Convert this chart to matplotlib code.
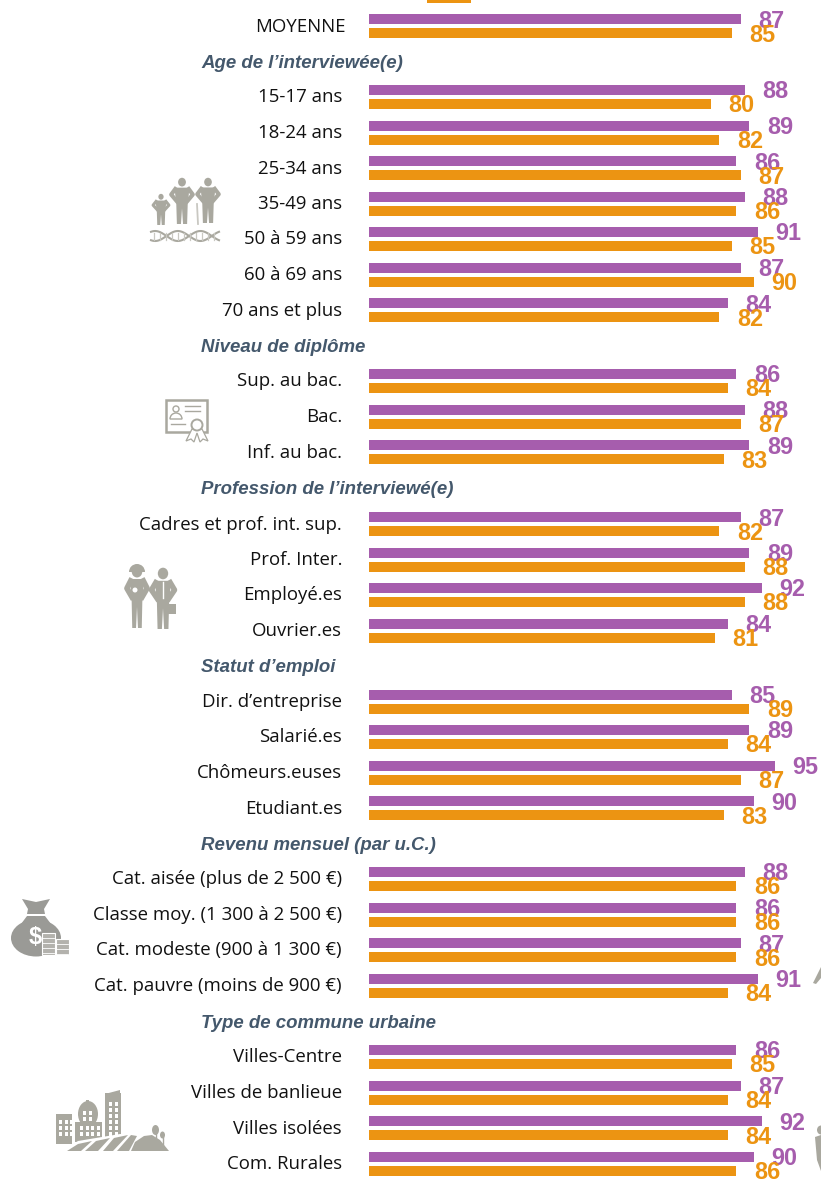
import matplotlib
matplotlib.use('Agg')
import matplotlib.pyplot as plt
import numpy as np
from matplotlib.patches import Polygon, Rectangle, Ellipse, Circle, Wedge

PURPLE = '#A65DAD'
ORANGE = '#EC9412'
HEAD = '#44586C'
ICON = '#A9A89F'

# chart values, one list per section
moyenne_labels = ['MOYENNE']
moyenne_a = [87]
moyenne_b = [85]

age_labels = ['15-17 ans', '18-24 ans', '25-34 ans', '35-49 ans', '50 à 59 ans', '60 à 69 ans', '70 ans et plus']
age_a = [88, 89, 86, 88, 91, 87, 84]
age_b = [80, 82, 87, 86, 85, 90, 82]

diplome_labels = ['Sup. au bac.', 'Bac.', 'Inf. au bac.']
diplome_a = [86, 88, 89]
diplome_b = [84, 87, 83]

profession_labels = ['Cadres et prof. int. sup.', 'Prof. Inter.', 'Employé.es', 'Ouvrier.es']
profession_a = [87, 89, 92, 84]
profession_b = [82, 88, 88, 81]

statut_labels = ['Dir. d’entreprise', 'Salarié.es', 'Chômeurs.euses', 'Etudiant.es']
statut_a = [85, 89, 95, 90]
statut_b = [89, 84, 87, 83]

revenu_labels = ['Cat. aisée (plus de 2 500 €)', 'Classe moy. (1 300 à 2 500 €)',
                 'Cat. modeste (900 à 1 300 €)', 'Cat. pauvre (moins de 900 €)']
revenu_a = [88, 86, 87, 91]
revenu_b = [86, 86, 86, 84]

commune_labels = ['Villes-Centre', 'Villes de banlieue', 'Villes isolées', 'Com. Rurales']
commune_a = [86, 87, 92, 90]
commune_b = [85, 84, 84, 86]

# title, labels, purple, orange, pixel y of first row
sections = [
    (None, moyenne_labels, moyenne_a, moyenne_b, 26),
    ('Age de l’interviewée(e)', age_labels, age_a, age_b, 97),
    ('Niveau de diplôme', diplome_labels, diplome_a, diplome_b, 381),
    ('Profession de l’interviewé(e)', profession_labels, profession_a, profession_b, 524),
    ('Statut d’emploi', statut_labels, statut_a, statut_b, 701.5),
    ('Revenu mensuel (par u.C.)', revenu_labels, revenu_a, revenu_b, 879),
    ('Type de commune urbaine', commune_labels, commune_a, commune_b, 1057),
]

W, H = 821, 1181
fig = plt.figure(figsize=(W / 100, H / 100), dpi=100)

# bars: x in percent, y in pixels from top
PX = 4.273
ax = fig.add_axes([369 / W, 0, (W - 369) / W, 1])
ax.set_xlim(0, (W - 369) / PX)
ax.set_ylim(H, 0)
ax.axis('off')

# overlay in raw pixels for the decoration
bg = fig.add_axes([0, 0, 1, 1], zorder=-1)
bg.set_xlim(0, W)
bg.set_ylim(H, 0)
bg.axis('off')

for title, labels, a, b, y0 in sections:
    if title:
        bg.text(201, y0 - 34, title, family='Liberation Sans', style='italic', weight='bold',
                fontsize=13.45, color=HEAD, va='center', ha='left')
    for i in range(len(labels)):
        y = y0 + i * 35.5
        ax.barh(y - 7, a[i], height=10, color=PURPLE, edgecolor='none')
        ax.barh(y + 7, b[i], height=10, color=ORANGE, edgecolor='none')
        ax.annotate(str(a[i]), (a[i], y - 7), xytext=(17.5 * 0.72, -8.5 * 0.72), textcoords='offset points',
                    family='Liberation Sans', weight='bold', fontsize=16.8, color=PURPLE, va='baseline')
        ax.annotate(str(b[i]), (b[i], y + 7), xytext=(17.5 * 0.72, -8.5 * 0.72), textcoords='offset points',
                    family='Liberation Sans', weight='bold', fontsize=16.8, color=ORANGE, va='baseline')
        xr = 346 if title is None else 342
        bg.text(xr, y + 0.5, labels[i], family='Open Sans', fontsize=13.45, color='#111111', ha='right', va='center')

# legend swatch, cut off by the top edge
bg.add_patch(Rectangle((427, -2), 44, 5, color=ORANGE, lw=0))


def person(x, top, h, w, col=ICON):
    # head + torso + legs, arms drawn as thick strokes
    bg.add_patch(Ellipse((x, top + h * 0.09), h * 0.17, h * 0.19, color=col, lw=0))
    bg.add_patch(Polygon([(x - w * .5, top + h * .21), (x + w * .5, top + h * .21), (x + w * .38, top + h * .58),
                          (x + w * .34, top + h), (x + w * .07, top + h), (x, top + h * .66),
                          (x - w * .07, top + h), (x - w * .34, top + h), (x - w * .38, top + h * .58)],
                         color=col, lw=0))
    lw = max(2.2, h * 0.065)
    bg.plot([x - w * .45, x - w * .72, x - w * .36], [top + h * .24, top + h * .36, top + h * .5], color=col, lw=lw)
    bg.plot([x + w * .45, x + w * .72, x + w * .36], [top + h * .24, top + h * .36, top + h * .5], color=col, lw=lw)


# age icon
person(161, 194, 31, 11)
person(182, 178, 46, 15)
person(208, 178, 45, 15)
bg.plot([197, 198], [204, 224], color='#C9C8C2', lw=1.3)
xs = np.arange(151, 219.5, 0.5)
bg.plot(xs, 236 + 5 * np.sin((xs - 151) / 68 * 2 * np.pi * 1.5 + 1.0), color=ICON, lw=1.5)
bg.plot(xs, 236 - 5 * np.sin((xs - 151) / 68 * 2 * np.pi * 1.5 + 1.0), color=ICON, lw=1.5)
for k in range(154, 218, 6):
    bg.plot([k, k], [233, 240], color='#C9C8C2', lw=0.9)

# diploma icon
bg.add_patch(Rectangle((166, 400), 41, 32, fill=False, ec=ICON, lw=1.8))
bg.add_patch(Circle((176, 409), 3, fill=False, ec=ICON, lw=1))
bg.add_patch(Wedge((176, 419), 6, 180, 360, fill=False, ec=ICON, lw=1))
bg.plot([185, 200], [406, 406], color=ICON, lw=1)
bg.plot([185, 200], [411, 411], color=ICON, lw=1)
bg.plot([171, 185], [424, 424], color=ICON, lw=1)
bg.add_patch(Polygon([(192, 429), (186, 441), (191, 439), (194, 442), (197, 433), (200, 442), (203, 439), (208, 441), (202, 429)],
                     fc='white', ec=ICON, lw=0.9, zorder=3))
bg.add_patch(Circle((197, 425), 5.5, fc='white', ec=ICON, lw=1.4, zorder=4))

# workers icon
person(137, 566, 62, 14)
bg.add_patch(Wedge((137, 572), 8, 180, 360, color=ICON, lw=0))
bg.add_patch(Circle((135, 590), 2.5, color='white', lw=0, zorder=3))
person(163, 568, 61, 16)
bg.plot([163, 163], [582, 598], color='white', lw=1, zorder=3)
bg.add_patch(Rectangle((167, 604), 9, 10, color=ICON, lw=0))

# money bag icon
bg.add_patch(Polygon([(22, 899), (36, 902), (50, 899), (44, 909), (45, 914), (27, 914), (28, 909)], color='#9A9A96', lw=0))
bg.add_patch(Ellipse((36, 938), 50, 37, color='#9A9A96', lw=0))
bg.add_patch(Polygon([(27, 916), (45, 916), (54, 928), (18, 928)], color='#9A9A96', lw=0))
bg.text(35, 938, '$', family='Liberation Sans', weight='bold', fontsize=17, color='white', ha='center', va='center')
for cx, top, h in [(48, 933, 22), (62, 939, 16)]:
    bg.add_patch(Rectangle((cx - 6.5, top), 13, h, fc='#B3B2AD', ec='white', lw=0.8, zorder=3))
    for yy in range(top + 5, top + h, 5):
        bg.plot([cx - 6, cx + 6], [yy, yy], color='white', lw=0.6, zorder=4)

# town icon
for bx, by, bw, bh in [(56, 1114, 16, 30), (75, 1122, 27, 20), (105, 1093, 16, 49)]:
    bg.add_patch(Rectangle((bx, by), bw, bh, color=ICON, lw=0))
bg.add_patch(Ellipse((88, 1114), 20, 26, color=ICON, lw=0))
bg.add_patch(Rectangle((86, 1100), 3, 4, color=ICON, lw=0))
bg.add_patch(Polygon([(105, 1094), (120, 1090), (120, 1100), (105, 1100)], color=ICON, lw=0))
for bx, by, nx, ny in [(59, 1120, 3, 3), (80, 1126, 4, 2), (109, 1102, 2, 6), (83, 1111, 2, 2)]:
    for ix in range(nx):
        for iy in range(ny):
            bg.add_patch(Rectangle((bx + ix * 5.5, by + iy * 6), 3, 3.5, color='white', lw=0, zorder=2))
# white gap then striped road
bg.add_patch(Polygon([(62, 1151), (78, 1141), (120, 1134), (140, 1135), (130, 1151)], color='white', lw=0, zorder=2))
bg.add_patch(Polygon([(67, 1151), (78, 1144), (92, 1141), (81, 1151)], color=ICON, lw=0, zorder=3))
bg.add_patch(Polygon([(85, 1151), (96, 1141), (110, 1138), (98, 1151)], color=ICON, lw=0, zorder=3))
bg.add_patch(Polygon([(103, 1151), (114, 1138), (128, 1135), (113, 1151)], color=ICON, lw=0, zorder=3))
bg.add_patch(Polygon([(117, 1151), (131, 1135), (137, 1136), (129, 1151)], color=ICON, lw=0, zorder=3))
bg.add_patch(Polygon([(131, 1151), (135, 1142), (144, 1136), (152, 1135), (160, 1140), (169, 1151)], color=ICON, lw=0, zorder=3))
bg.add_patch(Ellipse((155.5, 1130), 7, 10, color=ICON, lw=0))
bg.add_patch(Ellipse((162.5, 1135), 5, 7, color=ICON, lw=0))
bg.plot([155.5, 155.5], [1133, 1141], color=ICON, lw=1)
bg.plot([162.5, 162.5], [1137, 1145], color=ICON, lw=1)

# bits of icons cut by the right edge
bg.add_patch(Polygon([(813, 983), (821, 967), (821, 978), (816, 984)], color=ICON, lw=0))
bg.add_patch(Ellipse((821, 1130), 8, 9, color=ICON, lw=0))
bg.add_patch(Polygon([(815, 1137), (821, 1135), (821, 1171), (817, 1160)], color=ICON, lw=0))

fig.savefig('out.png', dpi=100)
